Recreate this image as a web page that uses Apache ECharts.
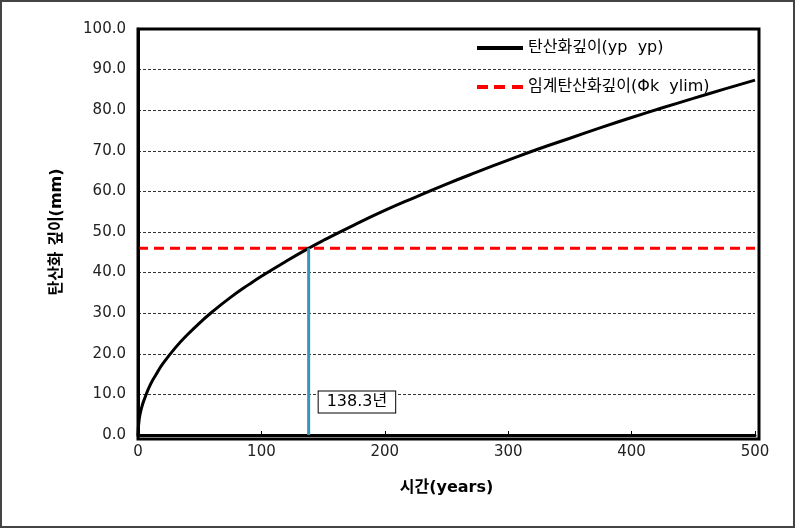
<!DOCTYPE html>
<html>
<head>
<meta charset="utf-8">
<script src="https://cdn.jsdelivr.net/npm/echarts@6/dist/echarts.min.js"></script>
<style>
  html, body { margin: 0; padding: 0; background: #fff; }
  #chart { width: 795px; height: 528px; box-sizing: border-box; border: 2px solid #444; }
</style>
</head>
<body>
<div id="chart"></div>
<script>
// values
var years = [0, 1, 3, 5, 10, 15, 20, 30, 40, 50, 60, 75, 90, 100, 120, 138.3, 150, 175, 200, 225, 250, 275, 300, 325, 350, 375, 400, 425, 450, 475, 500];
var depth = [0, 3.9, 6.8, 8.7, 12.4, 15.1, 17.5, 21.4, 24.7, 27.6, 30.3, 33.9, 37.1, 39.1, 42.8, 46.0, 47.9, 51.7, 55.3, 58.6, 61.8, 64.8, 67.7, 70.5, 73.1, 75.7, 78.2, 80.6, 82.9, 85.2, 87.4];
var limitDepth = 46.0;
var crossYear = 138.3;

var names = ['탄산화깊이(yp  yp)', '임계탄산화깊이(Φk  ylim)'];
var font = '"DejaVu Sans", "Noto Sans CJK KR", sans-serif';

var curve = years.map(function (t, i) { return [t, depth[i]]; });

var chart = echarts.init(document.getElementById('chart'));
chart.setOption({
    animation: false,
    textStyle: { fontFamily: font },
    grid: { left: 136, right: 38, top: 27, bottom: 91 },
    legend: {
        left: 475,
        top: 38,
        padding: 0,
        orient: 'vertical',
        itemGap: 23,
        itemWidth: 46,
        itemHeight: 4,
        textStyle: { fontSize: 16, color: '#000', fontFamily: font },
        data: [
            { name: names[0], icon: 'rect' },
            { name: names[1], icon: 'path://M0,0H11V4H0Z M17,0H28V4H17Z M35,0H46V4H35Z' }
        ]
    },
    xAxis: {
        type: 'value',
        min: 0,
        max: 500,
        interval: 100,
        name: '시간(years)',
        nameLocation: 'middle',
        nameGap: 45,
        nameTextStyle: { fontSize: 16, fontWeight: 'bold', color: '#000' },
        axisLine: { show: true, lineStyle: { color: '#000', width: 3 } },
        axisTick: { show: true, inside: true, length: 4, lineStyle: { color: '#000' } },
        axisLabel: { fontSize: 15, color: '#222', margin: 10 },
        splitLine: { show: false }
    },
    yAxis: {
        type: 'value',
        min: 0,
        max: 100,
        interval: 10,
        name: '탄산화 깊이(mm)',
        nameLocation: 'middle',
        nameGap: 73,
        nameTextStyle: { fontSize: 16, fontWeight: 'bold', color: '#000' },
        axisLine: { show: true, lineStyle: { color: '#000', width: 3 } },
        axisTick: { show: false },
        axisLabel: {
            fontSize: 15, color: '#222', margin: 12,
            formatter: function (v) { return v.toFixed(1); }
        },
        splitLine: { show: true, lineStyle: { color: '#333', type: [3, 2], width: 1 } }
    },
    graphic: [{
        type: 'rect',
        shape: { x: 136, y: 27, width: 795 - 136 - 38, height: 528 - 27 - 91 },
        style: { fill: 'none', stroke: '#000', lineWidth: 3 },
        silent: true,
        z: 100
    }],
    series: [
        {
            name: names[0],
            type: 'line',
            data: curve,
            smooth: true,
            showSymbol: false,
            lineStyle: { color: '#000', width: 3 },
            itemStyle: { color: '#000' },
            z: 5
        },
        {
            name: names[1],
            type: 'line',
            data: [[0, limitDepth], [500, limitDepth]],
            showSymbol: false,
            lineStyle: { color: '#ff0000', width: 3, type: [10, 6] },
            itemStyle: { color: '#ff0000' },
            z: 4
        },
        {
            name: 'cross',
            type: 'line',
            data: [[crossYear, 0], [crossYear, limitDepth]],
            showSymbol: false,
            lineStyle: { color: '#3596b5', width: 3 },
            z: 6,
            markPoint: {
                symbol: 'circle',
                symbolSize: 0,
                data: [{ coord: [crossYear, 8.1] }],
                label: {
                    show: true,
                    position: 'right',
                    distance: 10,
                    formatter: crossYear + '년',
                    fontSize: 16,
                    color: '#000',
                    backgroundColor: '#fff',
                    borderColor: '#000',
                    borderWidth: 1,
                    padding: [3, 8, 2, 8]
                }
            }
        }
    ]
});
</script>
</body>
</html>
